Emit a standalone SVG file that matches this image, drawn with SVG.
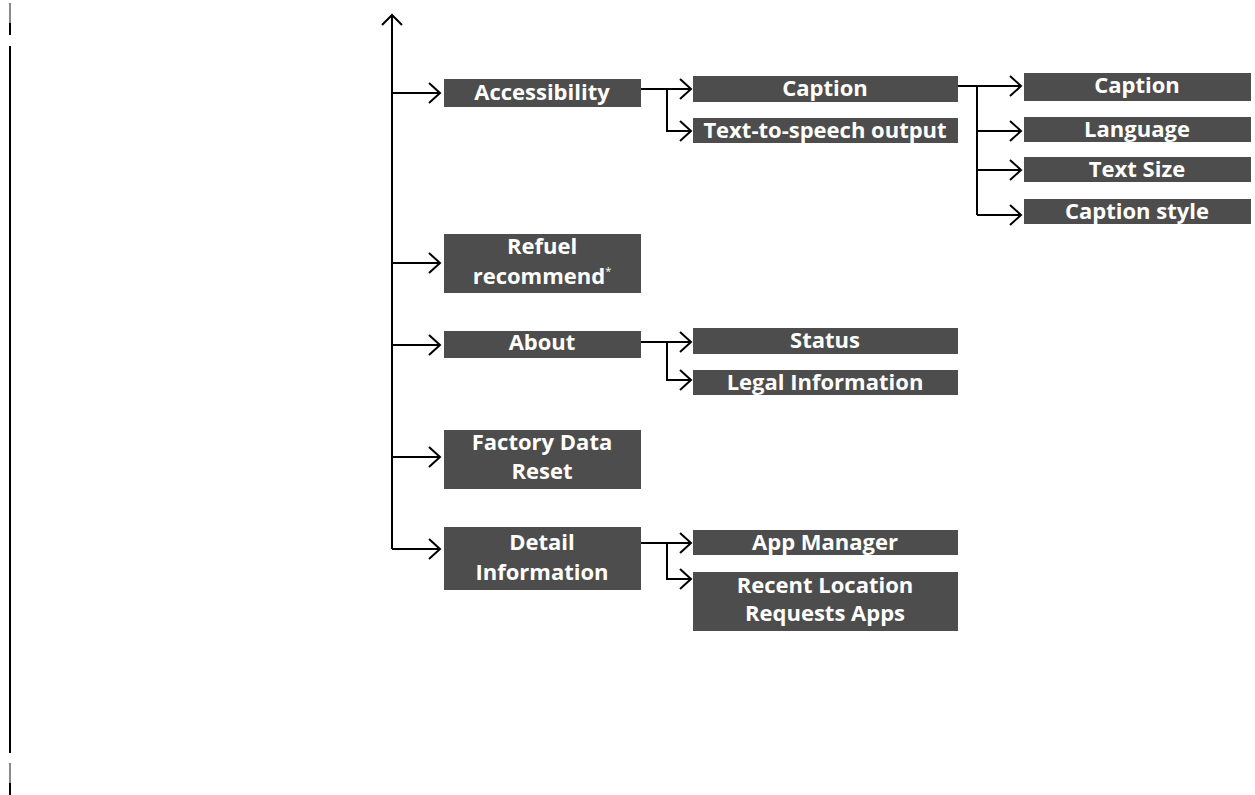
<svg xmlns="http://www.w3.org/2000/svg" width="1255" height="795" viewBox="0 0 1255 795">
<style>
.box{fill:#4d4d4d}
.t{font-family:"Open Sans","Noto Sans","Liberation Sans",sans-serif;font-weight:700;font-size:22px;fill:#fff;text-anchor:middle}
.c{fill:none;stroke:#000;stroke-width:2}
.sup{font-size:11px;font-weight:400}
</style>
<rect width="1255" height="795" fill="#fff"/>
<g id="margin">
<line x1="10" y1="3" x2="10" y2="23" stroke="#8a8a8a" stroke-width="2"/>
<line x1="10" y1="23" x2="10" y2="35" stroke="#000" stroke-width="2"/>
<line x1="10" y1="46" x2="10" y2="753" stroke="#000" stroke-width="2"/>
<line x1="10" y1="763" x2="10" y2="783" stroke="#8a8a8a" stroke-width="2"/>
<line x1="10" y1="783" x2="10" y2="795" stroke="#000" stroke-width="2"/>
</g>
<g id="connectors" class="c">
<path d="M392 549V15M382 25L392 15L402 25"/>
<path d="M392 93H440M429 83L440 93L429 103"/>
<path d="M392 263H440M429 253L440 263L429 273"/>
<path d="M392 345H440M429 335L440 345L429 355"/>
<path d="M392 457H440M429 447L440 457L429 467"/>
<path d="M392 549H440M429 539L440 549L429 559"/>
<path d="M641 89H691M680 79L691 89L680 99"/>
<path d="M667 89V131H691M680 121L691 131L680 141"/>
<path d="M958 86H1021M1010 76L1021 86L1010 96"/>
<path d="M977 86V215"/>
<path d="M977 131H1021M1010 121L1021 131L1010 141"/>
<path d="M977 170H1021M1010 160L1021 170L1010 180"/>
<path d="M977 215H1021M1010 205L1021 215L1010 225"/>
<path d="M641 342H691M680 332L691 342L680 352"/>
<path d="M667 342V380H691M680 370L691 380L680 390"/>
<path d="M641 543H691M680 533L691 543L680 553"/>
<path d="M667 543V579H691M680 569L691 579L680 589"/>
</g>
<g id="accessibility"><rect class="box" x="444" y="79" width="197" height="28"/><text class="t" x="542" y="100">Accessibility</text></g>
<g id="refuel"><rect class="box" x="444" y="234" width="197" height="59"/><text class="t" x="542" y="254">Refuel</text><text class="t" x="542" y="284">recommend<tspan class="sup" dy="-9">*</tspan></text></g>
<g id="about"><rect class="box" x="444" y="331" width="197" height="27"/><text class="t" x="542" y="350">About</text></g>
<g id="factory"><rect class="box" x="444" y="430" width="197" height="59"/><text class="t" x="542" y="450">Factory Data</text><text class="t" x="542" y="479">Reset</text></g>
<g id="detail"><rect class="box" x="444" y="527" width="197" height="63"/><text class="t" x="542" y="550">Detail</text><text class="t" x="542" y="580">Information</text></g>
<g id="caption"><rect class="box" x="693" y="76" width="265" height="26"/><text class="t" x="825" y="96">Caption</text></g>
<g id="tts"><rect class="box" x="693" y="118" width="265" height="25"/><text class="t" x="825" y="138">Text-to-speech output</text></g>
<g id="status"><rect class="box" x="693" y="328" width="265" height="26"/><text class="t" x="825" y="348">Status</text></g>
<g id="legal"><rect class="box" x="693" y="370" width="265" height="25"/><text class="t" x="825" y="390">Legal Information</text></g>
<g id="appmanager"><rect class="box" x="693" y="530" width="265" height="25"/><text class="t" x="825" y="550">App Manager</text></g>
<g id="recent"><rect class="box" x="693" y="572" width="265" height="59"/><text class="t" x="825" y="593">Recent Location</text><text class="t" x="825" y="621">Requests Apps</text></g>
<g id="caption2"><rect class="box" x="1024" y="73" width="227" height="28"/><text class="t" x="1137" y="93">Caption</text></g>
<g id="language"><rect class="box" x="1024" y="117" width="227" height="25"/><text class="t" x="1137" y="137">Language</text></g>
<g id="textsize"><rect class="box" x="1024" y="157" width="227" height="25"/><text class="t" x="1137" y="177">Text Size</text></g>
<g id="captionstyle"><rect class="box" x="1024" y="199" width="227" height="25"/><text class="t" x="1137" y="219">Caption style</text></g>
</svg>
